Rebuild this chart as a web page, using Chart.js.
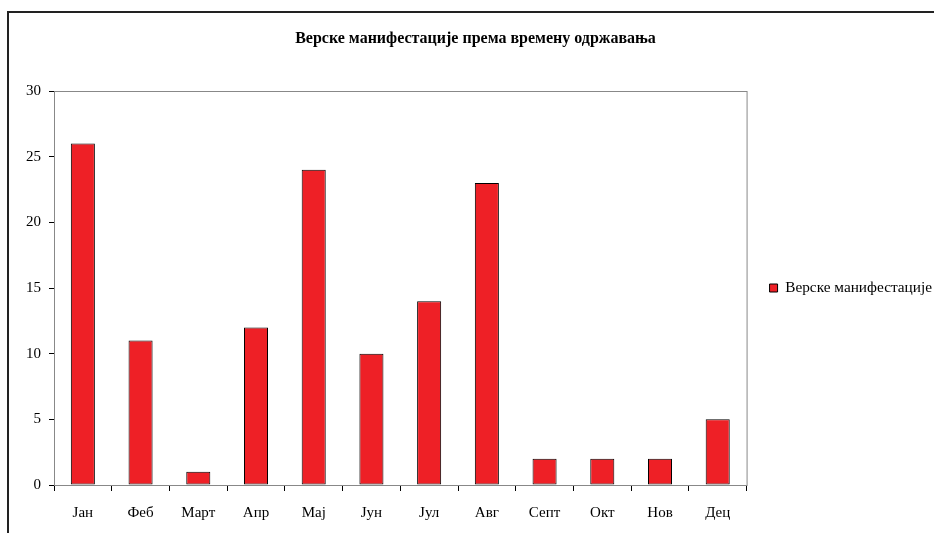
<!DOCTYPE html>
<html>
<head>
<meta charset="utf-8">
<script src="https://cdn.jsdelivr.net/npm/chart.js@4"></script>
<style>
  html, body { margin: 0; padding: 0; overflow: hidden; background: #fff; }
  #frame {
    position: absolute; left: 7px; top: 11px; width: 960px; height: 560px;
    border-left: 2px solid #222; border-top: 2px solid #222;
  }
  #chart { position: absolute; left: 9px; top: 13px; }
</style>
</head>
<body>
<div id="frame"></div>
<canvas id="chart" width="933" height="520"></canvas>
<script>
const months = ['Јан', 'Феб', 'Март', 'Апр', 'Мај', 'Јун', 'Јул', 'Авг', 'Септ', 'Окт', 'Нов', 'Дец'];
const events = [26, 11, 1, 12, 24, 10, 14, 23, 2, 2, 2, 5];
const seriesName = 'Верске манифестације';
const chartTitle = 'Верске манифестације према времену одржавања';

Chart.defaults.font.family = '"Liberation Serif", "Times New Roman", serif';
Chart.defaults.font.size = 15;
Chart.defaults.color = '#000';

// gray plot-area frame (Excel style), axes draw over left/bottom
const plotFrame = {
    id: 'plotFrame',
    beforeDatasetsDraw(chart) {
        const a = chart.chartArea;
        const ctx = chart.ctx;
        ctx.save();
        ctx.strokeStyle = '#888';
        ctx.lineWidth = 1;
        ctx.strokeRect(a.left + 0.5, a.top + 0.5, a.right - a.left, a.bottom - a.top);
        ctx.restore();
    }
};

new Chart(document.getElementById('chart'), {
    type: 'bar',
    data: {
        labels: months,
        datasets: [{
            label: seriesName,
            data: events,
            backgroundColor: '#ee2026',
            borderColor: '#000',
            borderWidth: 1,
            borderSkipped: false,
            categoryPercentage: 1,
            barPercentage: 0.4167
        }]
    },
    options: {
        responsive: false,
        animation: false,
        devicePixelRatio: 1,
        layout: { padding: 0 },
        plugins: {
            title: {
                display: true,
                text: chartTitle,
                font: { size: 16, weight: 'bold' },
                padding: { top: 16.4, bottom: 42.4 }
            },
            legend: {
                position: 'right',
                fullSize: false,
                labels: {
                    boxWidth: 8,
                    boxHeight: 8,
                    padding: 23,
                    font: { size: 15.3 }
                }
            },
            tooltip: { enabled: false }
        },
        scales: {
            x: {
                afterFit: s => { s.height = 48; },
                grid: {
                    offset: true,
                    drawOnChartArea: false,
                    tickLength: 6,
                    tickColor: '#000'
                },
                border: { color: '#000', width: 1 },
                ticks: { padding: 13, maxRotation: 0 }
            },
            y: {
                min: 0,
                max: 30,
                afterFit: s => { s.width = 45; },
                grid: {
                    drawOnChartArea: false,
                    tickLength: 5,
                    tickColor: '#000'
                },
                border: { color: '#000', width: 1 },
                ticks: { stepSize: 5, padding: 8 }
            }
        }
    },
    plugins: [plotFrame]
});
</script>
</body>
</html>
